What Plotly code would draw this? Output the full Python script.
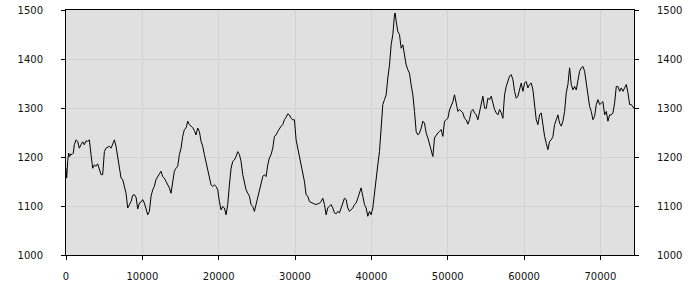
import plotly.graph_objects as go

x_vals = [
    0, 87, 218, 350, 480, 612, 786, 961, 1092, 1311, 1529, 1748, 1966, 2185, 2403, 2621, 2840, 3058,
    3277, 3495, 3714, 3932, 4150, 4369, 4587, 4806, 5024, 5243, 5461, 5680, 5898, 6117, 6335, 6553,
    6772, 6990, 7209, 7427, 7646, 7864, 8083, 8301, 8520, 8738, 8957, 9175, 9394, 9612, 9830, 10049,
    10267, 10486, 10704, 10923, 11141, 11360,
    11573, 11791, 12010, 12228, 12447, 12665, 12884, 13102, 13321, 13539, 13758, 13976, 14194, 14413,
    14631, 14850, 15068, 15287, 15505, 15724, 15942, 16160, 16379, 16597, 16816, 17034, 17253, 17471,
    17690, 17908, 18126, 18345, 18563, 18782, 19000, 19219, 19437, 19656, 19874, 20092, 20311, 20529,
    20748, 20966, 21185, 21403, 21622, 21840, 22058, 22277, 22495, 22714, 22932, 23151, 23369, 23588,
    23806,
    24023, 24242, 24460, 24679, 24897, 25115, 25334, 25552, 25771, 25989, 26208, 26426, 26645, 26863,
    27081, 27300, 27518, 27737, 27955, 28174, 28392, 28610, 28829, 29047, 29266, 29484, 29703, 29921,
    30140, 30358, 30576, 30795, 31013, 31232, 31450, 31669, 31887, 32106, 32324, 32542, 32761, 32979,
    33198, 33416, 33635, 33853, 34072, 34290, 34508, 34727, 34945, 35164, 35382, 35601, 35819, 36038,
    36256,
    36474, 36693, 36911, 37130, 37348, 37566, 37785, 38003, 38222, 38440, 38659, 38877, 39095, 39314,
    39532, 39751, 39969, 40188, 40406, 40625, 40843, 41061, 41280, 41498, 41717, 41935, 42154, 42372,
    42591, 42809, 43028, 43115, 43246, 43464, 43683, 43901, 44120, 44338, 44557, 44775, 44993, 45212,
    45430, 45649, 45867, 46086, 46304, 46522, 46741, 46959, 47178, 47396, 47615, 47833, 48052, 48270,
    48488, 48707,
    48925, 49144, 49362, 49581, 49799, 50018, 50236, 50454, 50673, 50891, 51110, 51328, 51547, 51765,
    51984, 52202, 52420, 52639, 52857, 53076, 53294, 53513, 53731, 53950, 54168, 54386, 54605, 54823,
    55042, 55260, 55479, 55697, 55915, 56134, 56352, 56571, 56789, 57008, 57226, 57444, 57663, 57881,
    58100, 58318, 58537, 58755, 58974, 59192, 59410, 59629, 59847, 60066, 60284, 60503, 60721, 60940,
    61158,
    61376, 61595, 61813, 62032, 62250, 62469, 62687, 62905, 63124, 63342, 63561, 63779, 63998, 64216,
    64435, 64653, 64871, 65090, 65308, 65527, 65745, 65964, 66182, 66401, 66619, 66837, 67056, 67274,
    67493, 67711, 67930, 68148, 68366, 68585, 68803, 69022, 69240, 69459, 69677, 69896, 70114, 70332,
    70551, 70769, 70988, 71206, 71425, 71643, 71862, 72080, 72298, 72517, 72735, 72954, 73172, 73391,
    73609, 73828, 74046, 74265, 74396,
]

y_vals = [
    1177, 1157, 1191, 1208, 1201, 1206, 1205, 1208, 1225, 1235, 1232, 1218, 1225, 1231, 1225, 1233, 1232, 1235,
    1205, 1177, 1184, 1181, 1186, 1174, 1164, 1164, 1211, 1218, 1220, 1222, 1218, 1225, 1235, 1222,
    1198, 1171, 1157, 1154, 1140, 1126, 1096, 1103, 1109, 1122, 1123, 1118, 1094, 1106, 1108, 1113,
    1106, 1094, 1082, 1089, 1120, 1133,
    1140, 1154, 1160, 1164, 1171, 1160, 1157, 1150, 1143, 1137, 1126, 1150, 1171, 1177,
    1181, 1205, 1218, 1242, 1256, 1259, 1273, 1266, 1263, 1260, 1254, 1245, 1259, 1252,
    1232, 1222, 1205, 1191, 1177, 1157, 1143, 1140, 1143, 1140, 1133, 1109, 1092, 1099,
    1096, 1082, 1103, 1143, 1177, 1191, 1194, 1201, 1211, 1205, 1191, 1164, 1150, 1133,
    1126,
    1120, 1103, 1099, 1089, 1103, 1116, 1126, 1143, 1160, 1164, 1160, 1184, 1198, 1205,
    1218, 1242, 1245, 1252, 1259, 1263, 1266, 1276, 1281, 1288, 1286, 1279, 1276, 1276,
    1235, 1218, 1205, 1191, 1171, 1150, 1123, 1120, 1109, 1107, 1106, 1104, 1103, 1104,
    1106, 1109, 1116, 1103, 1082, 1096, 1099, 1103, 1096, 1086, 1084, 1089, 1086, 1096,
    1109,
    1116, 1113, 1096, 1089, 1092, 1096, 1103, 1106, 1116, 1126, 1137, 1120, 1103, 1096,
    1079, 1089, 1082, 1096, 1130, 1154, 1184, 1211, 1259, 1307, 1317, 1327, 1361, 1388,
    1429, 1450, 1490, 1494, 1477, 1456, 1450, 1422, 1429, 1409, 1388, 1378, 1371, 1347,
    1327, 1293, 1252, 1245, 1249, 1259, 1273, 1269, 1249, 1239, 1225, 1211, 1201, 1239,
    1245, 1249,
    1252, 1256, 1242, 1273, 1276, 1279, 1296, 1303, 1313, 1327, 1310, 1293, 1297, 1293,
    1290, 1279, 1276, 1267, 1276, 1293, 1297, 1290, 1286, 1276, 1293, 1310, 1324, 1300,
    1299, 1320, 1317, 1324, 1307, 1297, 1290, 1286, 1297, 1290, 1279, 1327, 1344, 1354,
    1365, 1368, 1358, 1334, 1320, 1324, 1341, 1351, 1334, 1351, 1354, 1341, 1348, 1351,
    1337,
    1310, 1276, 1266, 1286, 1290, 1259, 1242, 1228, 1215, 1232, 1235, 1242, 1266, 1276,
    1286, 1269, 1263, 1273, 1293, 1331, 1348, 1382, 1348, 1337, 1344, 1337, 1358, 1375,
    1382, 1385, 1375, 1354, 1327, 1303, 1293, 1276, 1283, 1307, 1317, 1307, 1310, 1313,
    1286, 1293, 1273, 1286, 1286, 1290, 1310, 1344, 1344, 1334, 1341, 1334, 1341, 1348,
    1331, 1307, 1307, 1300, 1299,
]

x_ticks = [0, 10000, 20000, 30000, 40000, 50000, 60000, 70000]
y_ticks = [1000, 1100, 1200, 1300, 1400, 1500]

fig = go.Figure()
fig.add_trace(go.Scatter(x=x_vals, y=y_vals, mode="lines",
                         line=dict(color="black", width=1), hoverinfo="skip", showlegend=False))
fig.add_trace(go.Scatter(x=x_vals, y=y_vals, mode="lines", yaxis="y2",
                         line=dict(color="rgba(0,0,0,0)", width=0), hoverinfo="skip", showlegend=False))

font = dict(family="DejaVu Sans", size=10, color="#111111")
grid = "#d2d2d2"

fig.update_layout(
    width=700, height=300,
    margin=dict(l=66, r=66, t=10, b=45),
    paper_bgcolor="white", plot_bgcolor="#e0e0e0",
    font=font,
    xaxis=dict(range=[0, 74400], tickvals=x_ticks, ticktext=[str(v) for v in x_ticks],
               showgrid=True, gridcolor=grid, gridwidth=1, zeroline=False, automargin=False,
               showline=True, linecolor="black", linewidth=1, mirror=True,
               ticks="outside", ticklen=4, tickcolor="black", ticklabelstandoff=8),
    yaxis=dict(range=[1000, 1500], tickvals=y_ticks, ticktext=[str(v) for v in y_ticks],
               showgrid=True, gridcolor=grid, gridwidth=1, zeroline=False, automargin=False,
               showline=True, linecolor="black", linewidth=1,
               ticks="outside", ticklen=4, tickcolor="black", ticklabelstandoff=16),
    yaxis2=dict(range=[1000, 1500], tickvals=y_ticks, ticktext=[str(v) for v in y_ticks],
                overlaying="y", side="right", showgrid=False, zeroline=False, automargin=False,
                showline=True, linecolor="black", linewidth=1,
                ticks="outside", ticklen=4, tickcolor="black", ticklabelstandoff=16),
)

fig.write_html("out.html")
